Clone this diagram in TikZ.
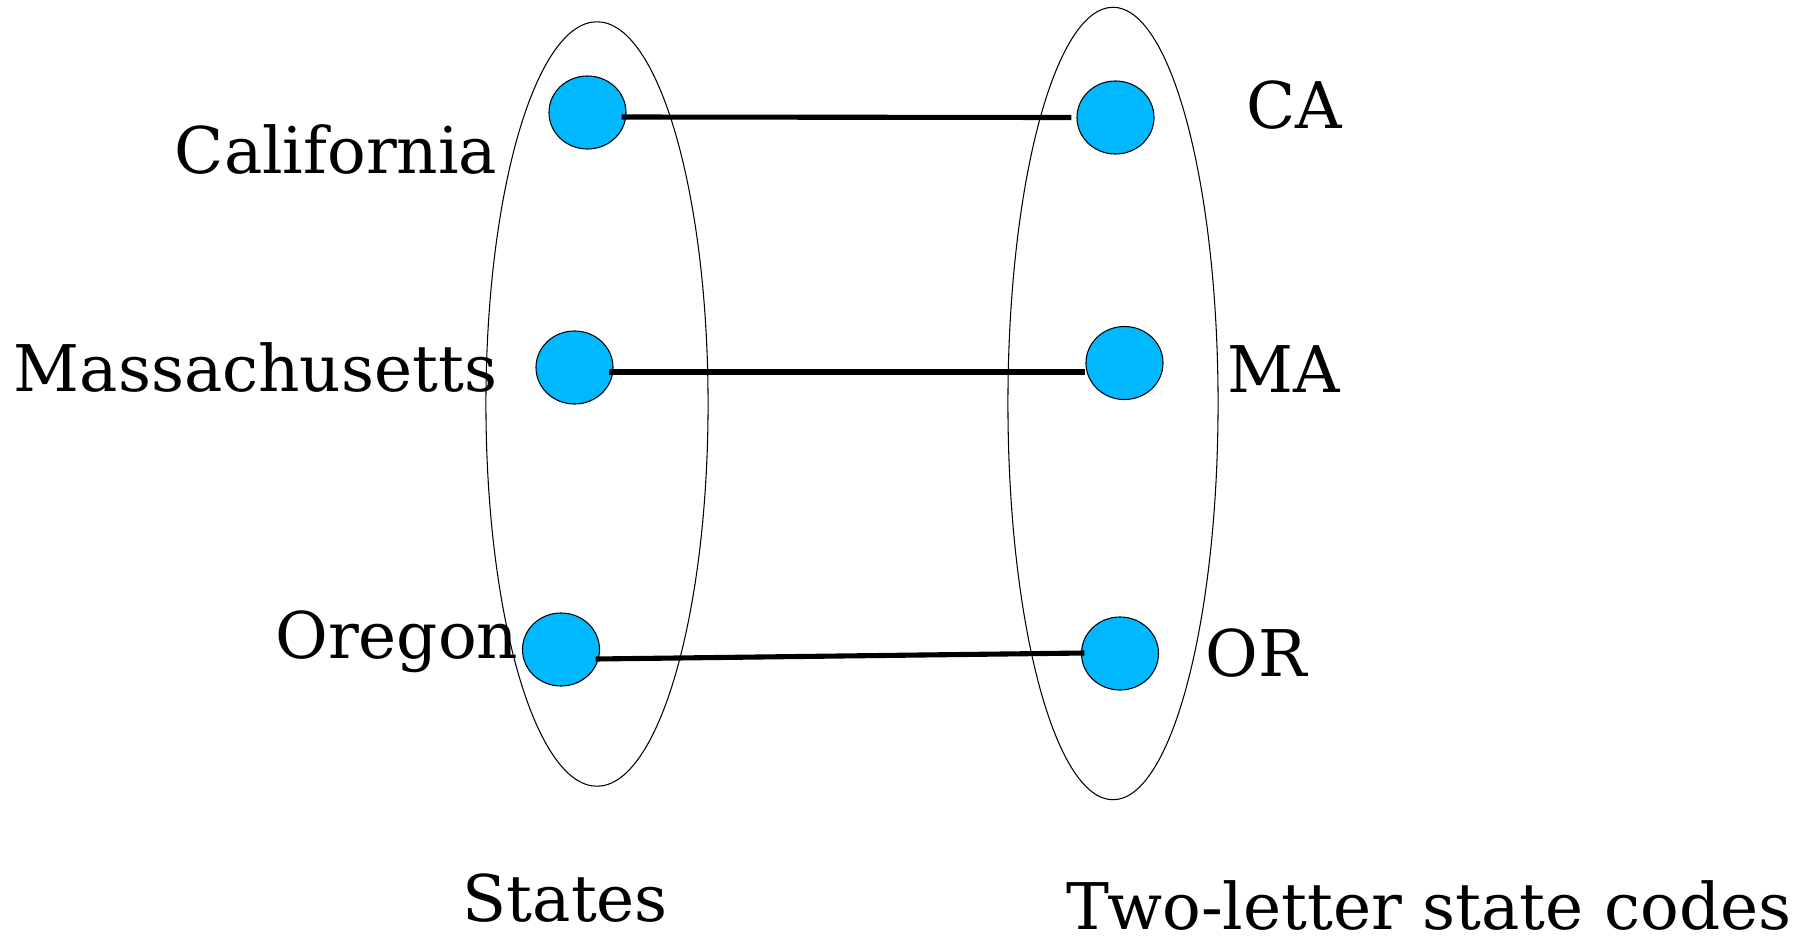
\documentclass[tikz,border=0pt]{standalone}
\usepackage{fontspec}
\setmainfont{DejaVu Serif}
\usetikzlibrary{shapes.geometric}
\definecolor{dotblue}{RGB}{0,184,255}
\tikzset{
  bluedot/.style={ellipse, draw, line width=0.3pt, fill=dotblue, minimum width=0.77cm, minimum height=0.73cm, inner sep=0pt},
  lbl/.style={inner sep=0pt, font=\fontsize{18.3}{22}\selectfont},
  link/.style={line width=1.45pt}
}

\begin{document}
\begin{tikzpicture}[x=0.01cm, y=-0.01cm]
\useasboundingbox (0,0) rectangle (1805,942);
\draw[line width=0.3pt] (597,404) ellipse (1.11cm and 3.82cm);
\draw[line width=0.3pt] (1113,403.5) ellipse (1.05cm and 3.96cm);
\node[bluedot] (lca) at (587.5,112.5) {};
\node[bluedot] (lma) at (574.5,367.5) {};
\node[bluedot] (lor) at (561,649.5) {};
\node[bluedot] (rca) at (1115.5,117.5) {};
\node[bluedot] (rma) at (1124.5,363) {};
\node[bluedot] (ror) at (1120,653.5) {};
\draw[link] ([shift={(-5,4.5)}]lca.east) -- ([shift={(-5,0)}]rca.west);
\draw[link] ([shift={(-5,4.5)}]lma.east) -- ([shift={(0,9)}]rma.west);
\draw[link] ([shift={(-4.5,9.5)}]lor.east) -- ([shift={(3.5,-0.5)}]ror.west);
\node[lbl, anchor=base east] (california) at (498,173) {California};
\node[lbl, anchor=base east] (massachusetts) at (498,391) {Massachusetts};
\node[lbl, anchor=base east] (oregon) at (519,658) {Oregon};
\node[lbl, anchor=base west] (ca) at (1246,128) {CA};
\node[lbl, anchor=base west] (ma) at (1227,392) {MA};
\node[lbl, anchor=base west] (or) at (1205,676.5) {OR};
\node[lbl, anchor=base west] (states) at (462,921) {States};
\node[lbl, anchor=base west] (codes) at (1066,929) {Two-letter state codes};
\end{tikzpicture}
\end{document}
